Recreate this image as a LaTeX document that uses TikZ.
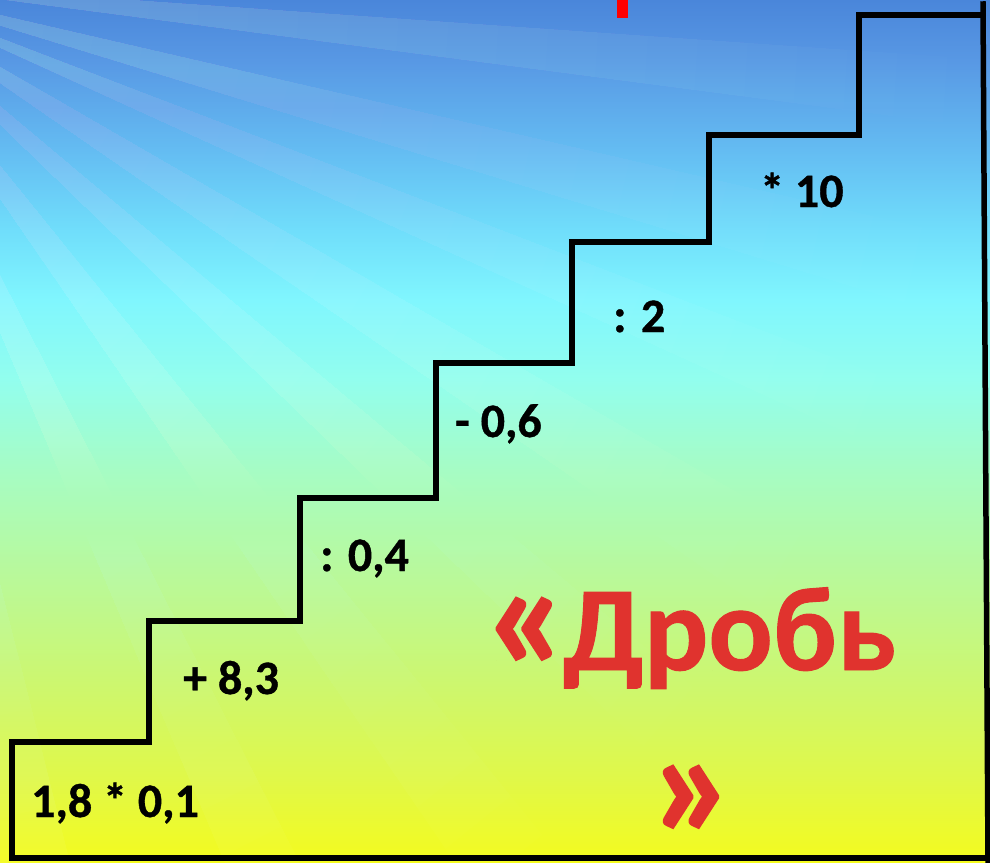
\documentclass[tikz,border=0pt]{standalone}
\usepackage{fontspec}
\setmainfont{Carlito}[BoldFeatures={FakeBold=0.8}]
\definecolor{titlered}{HTML}{E0332E}
\definecolor{markred}{HTML}{FF0000}
\definecolor{g0}{HTML}{4A86DA}
\definecolor{g1}{HTML}{5898E4}
\definecolor{g2}{HTML}{64BCF2}
\definecolor{g3}{HTML}{70DEFB}
\definecolor{g4}{HTML}{80F6FE}
\definecolor{g5}{HTML}{92FEEE}
\definecolor{g6}{HTML}{A6FCC4}
\definecolor{g7}{HTML}{B8F99C}
\definecolor{g8}{HTML}{CCF770}
\definecolor{g9}{HTML}{E0F848}
\definecolor{g10}{HTML}{F4FB1E}
% positions: 25bp = bottom (y=862), 75bp = top (y=0)
\pgfdeclareverticalshading{bgshade}{100bp}{%
color(0bp)=(g10); color(25bp)=(g10); color(29.8bp)=(g9); color(35.6bp)=(g8);
color(41.9bp)=(g7); color(47.7bp)=(g6); color(53bp)=(g5); color(57.6bp)=(g4);
color(61.6bp)=(g3); color(66.3bp)=(g2); color(71.5bp)=(g1); color(75bp)=(g0); color(100bp)=(g0)}
\begin{document}
\begin{tikzpicture}[x=1pt,y=-1pt,
  stair/.style={line width=5.5pt, black, line join=miter, line cap=rect},
  stairshadow/.style={line width=5.5pt, black, opacity=0.2, line join=miter},
  op/.style={font=\fontsize{48}{56}\selectfont\bfseries, anchor=base west, inner sep=0pt, text=black},
  title/.style={font=\fontsize{120}{140}\selectfont\bfseries, text=titlered, inner sep=0pt, anchor=base}]
\useasboundingbox (0,0) rectangle (990,862);
\shade[shading=bgshade] (0,0) rectangle (990,862);
% light rays
\begin{scope}
\clip (0,0) rectangle (990,862);
\foreach \a/\w in {4/0.06,13/0.07,21/0.06,30/0.08,40/0.07,51/0.08,63/0.07,76/0.08}{
  \foreach \r in {150,200,...,1100}{
    \fill[white, fill opacity=0.011] (-150,-20) -- ++(\a:\r) -- ++(\a+90:{\r*\w}) -- cycle;
  }
}
\end{scope}
% red mark at top
\fill[markred] (617,0) rectangle (628,18);
% staircase
\coordinate (s0) at (12,858);
\coordinate (s1) at (12,742);
\coordinate (s2) at (149,742);
\coordinate (s3) at (149,621);
\coordinate (s4) at (300,621);
\coordinate (s5) at (300,498);
\coordinate (s6) at (436,498);
\coordinate (s7) at (436,363);
\coordinate (s8) at (572,363);
\coordinate (s9) at (572,242);
\coordinate (s10) at (709,242);
\coordinate (s11) at (709,135);
\coordinate (s12) at (859,135);
\coordinate (s13) at (859,15);
\coordinate (s14) at (983,15);
\coordinate (rt) at (983,4);
\coordinate (rb) at (988,862);
\coordinate (bl) at (12,858);
\coordinate (br) at (990,858);
\draw[stairshadow, shift={(2,2)}] (s0) -- (s1) -- (s2) -- (s3) -- (s4) -- (s5) -- (s6) -- (s7) -- (s8) -- (s9) -- (s10) -- (s11) -- (s12) -- (s13) -- (s14);
\draw[stair] (s0) -- (s1) -- (s2) -- (s3) -- (s4) -- (s5) -- (s6) -- (s7) -- (s8) -- (s9) -- (s10) -- (s11) -- (s12) -- (s13) -- (s14);
\draw[stair] (rt) -- (rb);
\draw[stair] (bl) -- (br);
% operations
\node[op] (o1) at (31,817) {1,8 * 0,1};
\node[op] (o2) at (183,694) {+ 8,3};
\node[op] (o3) at (320,571) {: 0,4};
\node[op] (o4) at (455,437) {- 0,6};
\node[op] (o5) at (613,332) {: 2};
\node[op] (o6) at (760,207) {* 10};
% title
\node[title] (t1) at (690,670) {\scalebox{1.35}{«}\kern-8pt Дробь};
\node[title] (t2) at (693,838) {\scalebox{1.35}{»}};
\end{tikzpicture}
\end{document}
